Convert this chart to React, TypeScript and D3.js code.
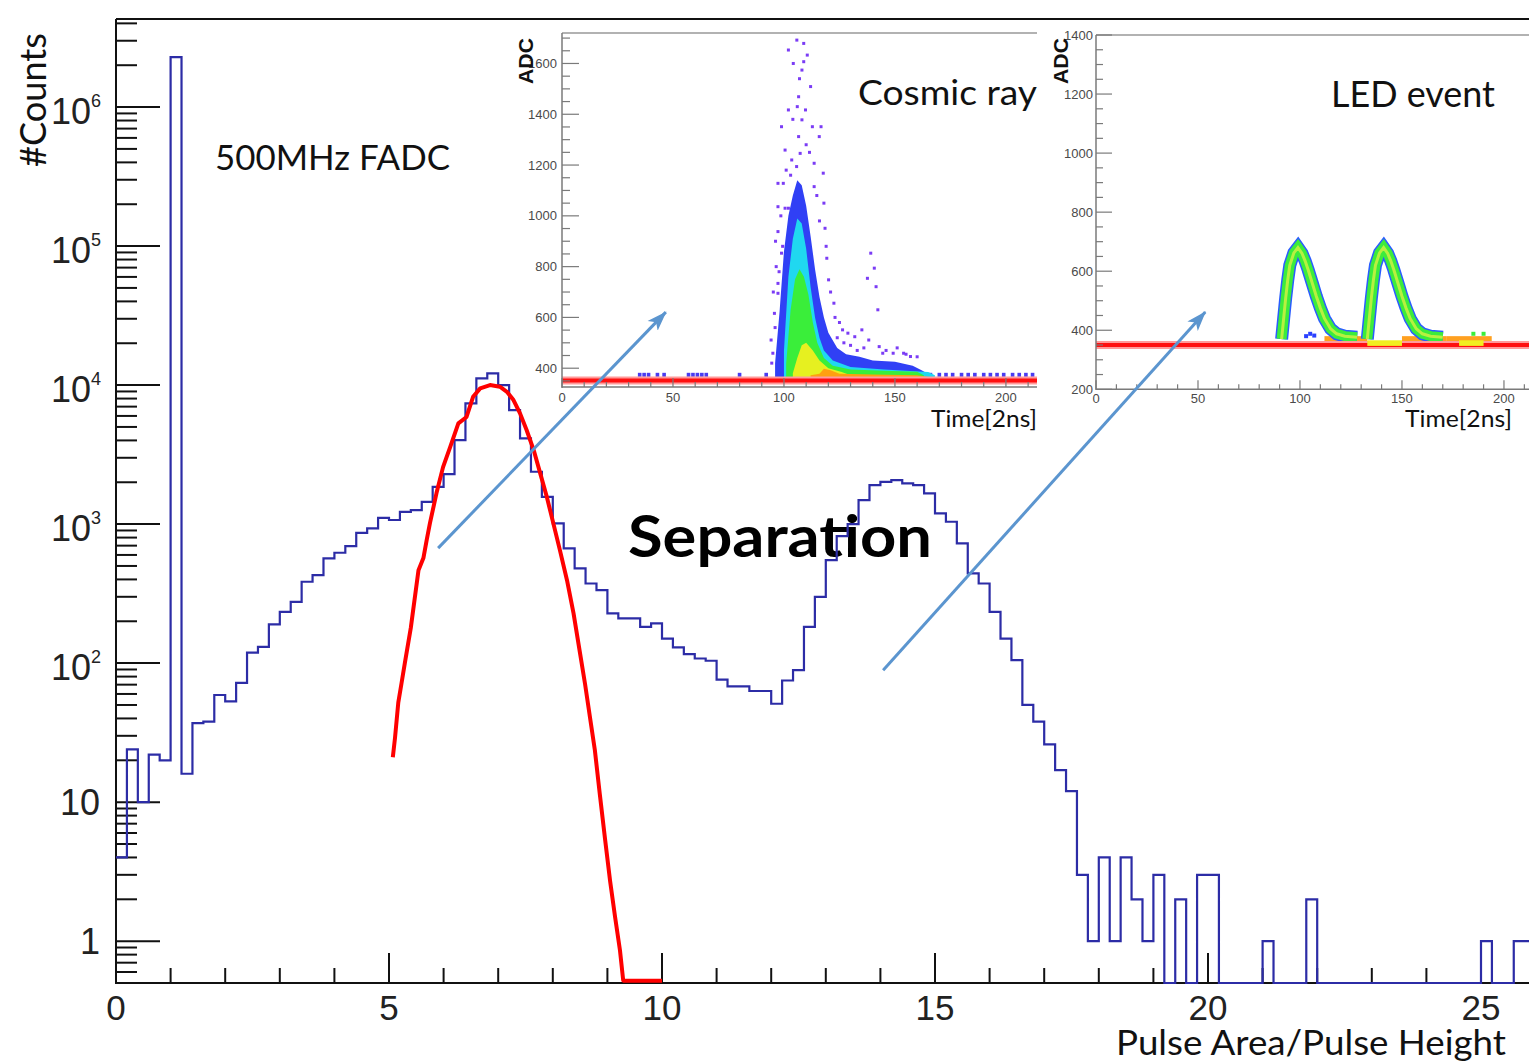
import React from "react";
import * as d3 from "d3";

// ---------------- main histogram (Pulse Area / Pulse Height) ----------------
const binWidth = 0.2;
const binCounts = [
  4, 24, 10, 22, 20, 2290000, 16, 37, 38, 59,
  53, 72, 119, 131, 190, 234, 276, 385, 430, 567,
  622, 695, 865, 931, 1110, 1070, 1225, 1262, 1447, 1855,
  2290, 4020, 7380, 11170, 12140, 10000, 6610, 4140, 2380, 1570,
  1012, 669, 480, 374, 335, 228, 210, 210, 182, 193,
  150, 130, 116, 108, 104, 76, 68, 68, 63, 63,
  51, 75, 89, 182, 300, 551, 820, 1000, 1489, 1909,
  2015, 2073, 1963, 1909, 1663, 1194, 1040, 726, 442, 374,
  234, 150, 105, 50, 38, 26, 17, 12, 3, 1,
  4, 1, 4, 2, 1, 3, 0, 2, 0, 3,
  3, 0, 0, 0, 0, 1, 0, 0, 0, 2,
  0, 0, 0, 0, 0, 0, 0, 0, 0, 0,
  0, 0, 0, 0, 0, 1, 0, 0, 1, 1,
];

// red fit curve
const fitX = [5.07, 5.11, 5.17, 5.23, 5.29, 5.4, 5.54, 5.63, 5.69, 5.75, 5.87, 5.99, 6.12, 6.27, 6.42, 6.54, 6.67, 6.85, 7.03, 7.16, 7.28, 7.4, 7.52, 7.65, 7.77, 7.89, 8.01, 8.13, 8.26, 8.38, 8.5, 8.59, 8.68, 8.77, 8.86, 8.96, 9.05, 9.14, 9.23, 9.29, 10.0];
const fitY = [21, 29, 52, 72, 100, 180, 465, 570, 767, 1016, 1671, 2570, 3580, 5300, 5900, 8240, 9470, 10000, 9730, 8950, 7800, 6260, 4750, 3410, 2316, 1572, 1012, 650, 395, 228, 117, 71, 41, 23.7, 11.5, 5.3, 2.7, 1.5, 0.86, 0.52, 0.52];

const xMajorTicks = [0, 5, 10, 15, 20, 25];
const yLabelValues = [1, 10, 100, 1000, 10000, 100000, 1000000];

// arrows (data coordinates of main plot)
const arrowStartX = [5.9, 14.05];
const arrowStartY = [672, 89];
const arrowEndX = [10.07, 19.95];
const arrowEndY = [33500, 33500];

// ---------------- inset 1: cosmic ray ----------------
const cosmicXTickLabels = [0, 50, 100, 150, 200];
const cosmicYTickLabels = [400, 600, 800, 1000, 1200, 1400, 1600];
const cosmicBaseline = 352;
const cosmicBlueT = [96, 98, 100, 102, 104, 106, 108, 110, 112, 114, 116, 118, 120, 124, 128, 134, 140, 150, 158, 162, 166];
const cosmicBlueHi = [420, 620, 860, 1000, 1080, 1140, 1120, 1040, 920, 790, 680, 600, 540, 480, 455, 445, 430, 425, 410, 392, 372];
const cosmicCyanT = [100, 102, 104, 106, 108, 110, 112, 114, 116, 118, 122, 130, 145, 165, 168];
const cosmicCyanHi = [470, 760, 910, 990, 970, 870, 720, 600, 520, 470, 430, 405, 395, 385, 372];
const cosmicGreenT = [101, 103, 105, 107, 109, 111, 113, 115, 118, 122, 130, 145, 160, 163];
const cosmicGreenHi = [420, 630, 750, 790, 760, 690, 580, 500, 440, 410, 395, 390, 386, 372];
const cosmicYellowT = [104, 106, 108, 110, 113, 116, 120, 126, 130];
const cosmicYellowHi = [380, 440, 490, 500, 470, 430, 400, 385, 372];
const cosmicOrangeT = [112, 116, 118, 121, 125, 140, 160, 166];
const cosmicOrangeHi = [372, 378, 398, 392, 378, 375, 372, 364];
const cosmicDotT = [105.8, 108.9, 102, 110.5, 104.2, 108.9, 108.1, 112, 106.6, 109.7, 102, 106, 108.1, 98.9, 112.8, 116.7, 115.9, 106.6, 100.5, 107.3, 105.7, 113.6, 117.7, 97.3, 99.7, 113.6, 97.3, 100.5, 102, 118.5, 97.3, 98.9, 119.3, 96.5, 120.1, 97.3, 122.5, 97.3, 139.1, 140.7, 137.6, 141.5, 142.3, 126.4, 128.8, 131.9, 135.1, 138.2, 142.9, 144.5, 149.2, 153.9, 157, 95, 94.2, 95.7, 107, 104, 110, 103, 118, 96, 123, 125, 94.5, 95.2, 96.2, 97.8, 98.6, 99.4, 101, 103.5, 111.5, 114.8, 116, 119, 121, 124, 127, 130, 133, 136, 146, 151, 155, 160];
const cosmicDotADC = [1692, 1679, 1653, 1633, 1600, 1607, 1574, 1509, 1469, 1417, 1417, 1430, 1378, 1351, 1351, 1351, 1312, 1312, 1259, 1246, 1194, 1207, 1168, 1128, 1128, 1115, 1036, 1030, 1030, 951, 938, 853, 833, 800, 748, 734, 656, 695, 853, 794, 754, 721, 630, 551, 538, 524, 551, 511, 485, 459, 459, 459, 446, 459, 511, 616, 1540, 1380, 1280, 1160, 1050, 560, 600, 580, 420, 700, 900, 780, 1000, 880, 1180, 1220, 1250, 1080, 980, 880, 700, 520, 500, 490, 470, 480, 470, 480, 455, 445];
const cosmicBaseDotT = [35, 37, 39, 43, 46, 57, 59, 61, 63, 65, 80, 92, 166, 170, 173, 176, 180, 183, 186, 190, 193, 196, 199, 203, 206, 209, 212];
const cosmicBaseDotADC = 374;

// ---------------- inset 2: LED event ----------------
const ledXTickLabels = [0, 50, 100, 150, 200];
const ledYTickLabels = [200, 400, 600, 800, 1000, 1200, 1400];
const ledBaseline = 350;
const ledPulse1T = [91, 92, 93, 94, 95, 97, 99, 101, 102.5, 104, 106, 108, 110, 112, 115, 118, 122, 128];
const ledPulse2T = [133, 134, 135, 136, 137, 139, 141, 143, 144.5, 146, 148, 150, 152, 154, 157, 160, 164, 170];
const ledPulseADC = [370, 440, 510, 570, 620, 662, 680, 660, 635, 605, 560, 515, 475, 440, 405, 388, 380, 376];
const ledOrangeStart = [112, 150, 172];
const ledOrangeEnd = [133, 172, 194];
const ledYellowStart = [133, 178];
const ledYellowEnd = [150, 190];
const ledGreenDotT = [118, 122, 126, 165, 185, 190];
const ledBlueDotT = [103, 105, 107];
const ledBlueDotADC = [380, 388, 382];

const TICK_FONT = "'Liberation Sans', Arial, Helvetica, sans-serif";
const TEXT_FONT = "Lato, 'Open Sans', sans-serif";

export default function App() {
  const W = 1529;
  const H = 1062;

  // main scales
  const x = d3.scaleLinear().domain([0, 26]).range([116, 1535.6]);
  const y = d3.scaleLog().domain([0.5, 4.3e6]).range([983, 19]).clamp(true);
  const floorV = 0.5;

  const histPts: [number, number][] = binCounts.map((c, i) => [i * binWidth, Math.max(c, floorV)]);
  histPts.push([binCounts.length * binWidth, Math.max(binCounts[binCounts.length - 1], floorV)]);
  const histPath = d3
    .line<[number, number]>()
    .x((d) => x(d[0]))
    .y((d) => y(d[1]))
    .curve(d3.curveStepAfter)(histPts) || "";

  const fitPath = d3
    .line<number>()
    .x((d) => x(d))
    .y((_, i) => y(fitY[i]))(fitX) || "";

  // y ticks (log)
  const yTicks: { v: number; major: boolean }[] = [];
  for (let e = -1; e <= 6; e++) {
    for (let k = 1; k <= 9; k++) {
      const v = k * Math.pow(10, e);
      if (v >= 0.5 && v <= 4.3e6) yTicks.push({ v, major: k === 1 });
    }
  }
  const xTicks = d3.range(0, 26, 1);

  // inset 1 scales
  const cx = d3.scaleLinear().domain([0, 214]).range([562, 1037]);
  const cy = d3.scaleLinear().domain([326, 1720]).range([387, 33]);
  const band = (T: number[], Hi: number[], lo: number) =>
    d3
      .area<number>()
      .x((d) => cx(d))
      .y0(cy(lo))
      .y1((_, i) => cy(Hi[i]))(T) || "";

  // inset 2 scales
  const lx = d3.scaleLinear().domain([0, 216]).range([1096, 1536.6]);
  const ly = d3.scaleLinear().domain([200, 1400]).range([389.3, 35]);
  const pulseLine = (T: number[]) =>
    d3
      .line<number>()
      .x((d) => lx(d))
      .y((_, i) => ly(ledPulseADC[i]))
      .curve(d3.curveLinear)(T) || "";

  const cosmicYTicks = d3.range(350, 1720, 50);
  const cosmicXTicks = d3.range(0, 215, 10);
  const ledYTicks = d3.range(200, 1401, 50);
  const ledXTicks = d3.range(0, 216, 10);

  const insetAxis = "#7a7a7a";
  const insetLabel = "#4a4a4a";
  const arrowColor = "#5b95cf";

  return (
    <svg
      width={W}
      height={H}
      viewBox={`0 0 ${W} ${H}`}
      style={{ position: "absolute", left: 0, top: 0, display: "block" }}
    >
      <defs>
        <marker
          id="arrowHead"
          viewBox="0 0 20 16"
          refX="19"
          refY="8"
          markerWidth="20"
          markerHeight="16"
          markerUnits="userSpaceOnUse"
          orient="auto"
        >
          <path d="M0,1 L20,8 L0,15 L5,8 Z" fill={arrowColor} />
        </marker>
      </defs>
      <rect x={0} y={0} width={W} height={H} fill="#ffffff" />

      {/* ---------- main frame & axes ---------- */}
      <line x1={116} y1={19} x2={W} y2={19} stroke="#111" strokeWidth={2} />
      <line x1={116} y1={19} x2={116} y2={984} stroke="#111" strokeWidth={2} />
      <line x1={115} y1={983} x2={W} y2={983} stroke="#111" strokeWidth={2} />

      {yTicks.map((t, i) => (
        <line
          key={"yt" + i}
          x1={116}
          x2={t.major ? 160 : 137}
          y1={y(t.v)}
          y2={y(t.v)}
          stroke="#111"
          strokeWidth={2}
        />
      ))}
      {xTicks.map((t) => (
        <line
          key={"xt" + t}
          x1={x(t)}
          x2={x(t)}
          y1={983}
          y2={t % 5 === 0 ? 953 : 968}
          stroke="#111"
          strokeWidth={2}
        />
      ))}

      {xMajorTicks.map((t) => (
        <text
          key={"xl" + t}
          x={x(t)}
          y={1020}
          textAnchor="middle"
          fontFamily={TICK_FONT}
          fontSize={35}
          fill="#222"
        >
          {t}
        </text>
      ))}
      {yLabelValues.map((v) => {
        const e = Math.round(Math.log10(v));
        if (v < 100) {
          return (
            <text
              key={"yl" + v}
              x={100}
              y={y(v) + 13}
              textAnchor="end"
              fontFamily={TICK_FONT}
              fontSize={36}
              fill="#222"
            >
              {String(v)}
            </text>
          );
        }
        return (
          <text
            key={"yl" + v}
            x={101}
            y={y(v) + 17}
            textAnchor="end"
            fontFamily={TICK_FONT}
            fontSize={36}
            fill="#222"
          >
            10
            <tspan dy={-17} fontSize={18}>
              {String(e)}
            </tspan>
          </text>
        );
      })}

      {/* axis titles */}
      <text
        transform="translate(46,100) rotate(-90)"
        textAnchor="middle"
        fontFamily={TEXT_FONT}
        fontSize={36}
        textLength={134}
        lengthAdjust="spacingAndGlyphs"
        fill="#111"
      >
        #Counts
      </text>
      <text
        x={1116}
        y={1055}
        fontFamily={TEXT_FONT}
        fontSize={34}
        textLength={390}
        lengthAdjust="spacingAndGlyphs"
        fill="#111"
      >
        Pulse Area/Pulse Height
      </text>
      <text
        x={215}
        y={170}
        fontFamily={TEXT_FONT}
        fontSize={34}
        textLength={235}
        lengthAdjust="spacingAndGlyphs"
        fill="#111"
      >
        500MHz FADC
      </text>
      <text
        x={628}
        y={557}
        fontFamily={TEXT_FONT}
        fontWeight="bold"
        fontSize={57}
        textLength={304}
        lengthAdjust="spacingAndGlyphs"
        fill="#000"
      >
        Separation
      </text>

      {/* histogram & fit */}
      <path d={histPath} fill="none" stroke="#2c2ca6" strokeWidth={2.2} />
      <path d={fitPath} fill="none" stroke="#ff0000" strokeWidth={4} strokeLinejoin="round" />

      {/* ---------- inset 1: cosmic ray ---------- */}
      <g>
        {cosmicDotT.map((t, i) => (
          <rect
            key={"cd" + i}
            x={cx(t) - 1.5}
            y={cy(cosmicDotADC[i]) - 1.5}
            width={3}
            height={3}
            fill="#7b3cf5"
          />
        ))}
        {cosmicBaseDotT.map((t, i) => (
          <rect
            key={"cb" + i}
            x={cx(t) - 1.8}
            y={cy(cosmicBaseDotADC) - 2}
            width={3.6}
            height={4}
            fill="#4a3cf0"
          />
        ))}
        <path d={band(cosmicBlueT, cosmicBlueHi, 362)} fill="#3040f5" />
        <path d={band(cosmicCyanT, cosmicCyanHi, 362)} fill="#20d8f0" />
        <path d={band(cosmicGreenT, cosmicGreenHi, 362)} fill="#3aee3a" />
        <path d={band(cosmicYellowT, cosmicYellowHi, 358)} fill="#e6f020" />
        <path d={band(cosmicOrangeT, cosmicOrangeHi, 356)} fill="#ffa010" />
        <line
          x1={cx(0)}
          x2={cx(214)}
          y1={cy(cosmicBaseline)}
          y2={cy(cosmicBaseline)}
          stroke="#ff9a9a"
          strokeWidth={8}
        />
        <line
          x1={cx(0)}
          x2={cx(214)}
          y1={cy(cosmicBaseline)}
          y2={cy(cosmicBaseline)}
          stroke="#ff1010"
          strokeWidth={4}
        />
        {/* axes */}
        <line x1={562} y1={33} x2={1037} y2={33} stroke="#999" strokeWidth={1.3} />
        <line x1={562} y1={33} x2={562} y2={388} stroke={insetAxis} strokeWidth={1.5} />
        <line x1={562} y1={387} x2={1037} y2={387} stroke={insetAxis} strokeWidth={1.5} />
        {cosmicYTicks.map((v) => (
          <line
            key={"cyt" + v}
            x1={562}
            x2={562 + (v % 200 === 0 ? 17 : 8)}
            y1={cy(v)}
            y2={cy(v)}
            stroke={insetAxis}
            strokeWidth={1.2}
          />
        ))}
        {cosmicXTicks.map((v) => (
          <line
            key={"cxt" + v}
            x1={cx(v)}
            x2={cx(v)}
            y1={387}
            y2={387 - (v % 50 === 0 ? 9 : 5)}
            stroke={insetAxis}
            strokeWidth={1.2}
          />
        ))}
        {cosmicYTickLabels.map((v) => (
          <text
            key={"cyl" + v}
            x={557}
            y={cy(v) + 4.5}
            textAnchor="end"
            fontFamily={TICK_FONT}
            fontSize={13}
            fill={insetLabel}
          >
            {v}
          </text>
        ))}
        {cosmicXTickLabels.map((v) => (
          <text
            key={"cxl" + v}
            x={cx(v)}
            y={402}
            textAnchor="middle"
            fontFamily={TICK_FONT}
            fontSize={13}
            fill={insetLabel}
          >
            {v}
          </text>
        ))}
        <text
          transform="translate(533,38) rotate(-90)"
          textAnchor="end"
          fontFamily={TICK_FONT}
          fontWeight="bold"
          fontSize={21}
          textLength={46}
          lengthAdjust="spacingAndGlyphs"
          fill="#111"
        >
          ADC
        </text>
        <text
          x={931}
          y={427}
          fontFamily={TEXT_FONT}
          fontSize={24}
          textLength={106}
          lengthAdjust="spacingAndGlyphs"
          fill="#111"
        >
          Time[2ns]
        </text>
        <text
          x={858}
          y={105}
          fontFamily={TEXT_FONT}
          fontSize={35}
          textLength={179}
          lengthAdjust="spacingAndGlyphs"
          fill="#111"
        >
          Cosmic ray
        </text>
      </g>

      {/* ---------- inset 2: LED event ---------- */}
      <g>
        {ledOrangeStart.map((s, i) => (
          <rect
            key={"lo" + i}
            x={lx(s)}
            y={ly(380)}
            width={lx(ledOrangeEnd[i]) - lx(s)}
            height={ly(362) - ly(380)}
            fill="#ffa020"
          />
        ))}
        {ledGreenDotT.map((t, i) => (
          <rect key={"lg" + i} x={lx(t) - 2} y={ly(388) - 2} width={4} height={4} fill="#3aee3a" />
        ))}
        {ledBlueDotT.map((t, i) => (
          <rect
            key={"lb" + i}
            x={lx(t) - 2}
            y={ly(ledBlueDotADC[i]) - 2}
            width={4}
            height={4}
            fill="#2a40ff"
          />
        ))}
        {[ledPulse1T, ledPulse2T].map((T, i) => (
          <g key={"lp" + i}>
            <path d={pulseLine(T)} fill="none" stroke="#2a5cff" strokeWidth={13} strokeLinejoin="miter" />
            <path d={pulseLine(T)} fill="none" stroke="#3cec3c" strokeWidth={10} strokeLinejoin="miter" />
            <path d={pulseLine(T)} fill="none" stroke="#b8f040" strokeWidth={3} strokeLinejoin="miter" />
          </g>
        ))}
        <line
          x1={lx(0)}
          x2={lx(216)}
          y1={ly(ledBaseline)}
          y2={ly(ledBaseline)}
          stroke="#ff9a9a"
          strokeWidth={8}
        />
        <line
          x1={lx(0)}
          x2={lx(216)}
          y1={ly(ledBaseline)}
          y2={ly(ledBaseline)}
          stroke="#ff1010"
          strokeWidth={4}
        />
        {ledYellowStart.map((s, i) => (
          <rect
            key={"ly" + i}
            x={lx(s)}
            y={ly(366)}
            width={lx(ledYellowEnd[i]) - lx(s)}
            height={ly(347) - ly(366)}
            fill="#f2ee20"
          />
        ))}
        <line x1={1096} y1={35} x2={W} y2={35} stroke="#999" strokeWidth={1.3} />
        <line x1={1096} y1={35} x2={1096} y2={390} stroke={insetAxis} strokeWidth={1.5} />
        <line x1={1096} y1={389.3} x2={W} y2={389.3} stroke={insetAxis} strokeWidth={1.5} />
        {ledYTicks.map((v) => (
          <line
            key={"lyt" + v}
            x1={1096}
            x2={1096 + (v % 200 === 0 ? 16 : 7)}
            y1={ly(v)}
            y2={ly(v)}
            stroke={insetAxis}
            strokeWidth={1.2}
          />
        ))}
        {ledXTicks.map((v) => (
          <line
            key={"lxt" + v}
            x1={lx(v)}
            x2={lx(v)}
            y1={389.3}
            y2={389.3 - (v % 50 === 0 ? 9 : 5)}
            stroke={insetAxis}
            strokeWidth={1.2}
          />
        ))}
        {ledYTickLabels.map((v) => (
          <text
            key={"lyl" + v}
            x={1093}
            y={ly(v) + 4.5}
            textAnchor="end"
            fontFamily={TICK_FONT}
            fontSize={13}
            fill={insetLabel}
          >
            {v}
          </text>
        ))}
        {ledXTickLabels.map((v) => (
          <text
            key={"lxl" + v}
            x={lx(v)}
            y={403}
            textAnchor="middle"
            fontFamily={TICK_FONT}
            fontSize={13}
            fill={insetLabel}
          >
            {v}
          </text>
        ))}
        <text
          transform="translate(1068,38) rotate(-90)"
          textAnchor="end"
          fontFamily={TICK_FONT}
          fontWeight="bold"
          fontSize={21}
          textLength={46}
          lengthAdjust="spacingAndGlyphs"
          fill="#111"
        >
          ADC
        </text>
        <text
          x={1405}
          y={427}
          fontFamily={TEXT_FONT}
          fontSize={24}
          textLength={107}
          lengthAdjust="spacingAndGlyphs"
          fill="#111"
        >
          Time[2ns]
        </text>
        <text
          x={1331}
          y={107}
          fontFamily={TEXT_FONT}
          fontSize={36}
          textLength={164}
          lengthAdjust="spacingAndGlyphs"
          fill="#111"
        >
          LED event
        </text>
      </g>

      {/* ---------- arrows ---------- */}
      {arrowStartX.map((sx, i) => (
        <line
          key={"ar" + i}
          x1={x(sx)}
          y1={y(arrowStartY[i])}
          x2={x(arrowEndX[i])}
          y2={y(arrowEndY[i])}
          stroke={arrowColor}
          strokeWidth={3}
          markerEnd="url(#arrowHead)"
        />
      ))}
    </svg>
  );
}
